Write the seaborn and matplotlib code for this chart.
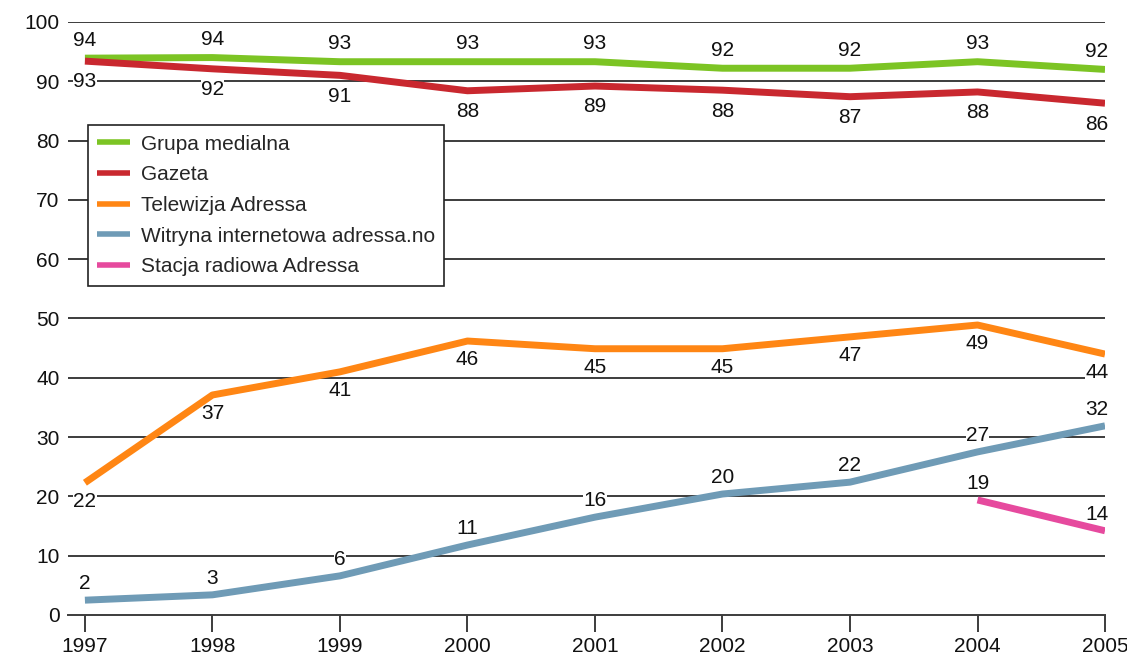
import numpy as np
import pandas as pd
import matplotlib
matplotlib.use("Agg")
import matplotlib.pyplot as plt
import seaborn as sns

years = [1997, 1998, 1999, 2000, 2001, 2002, 2003, 2004, 2005]
grupa = [93.9, 94.0, 93.3, 93.3, 93.3, 92.2, 92.2, 93.3, 92.0]
gazeta = [93.4, 92.1, 91.0, 88.4, 89.2, 88.5, 87.4, 88.2, 86.3]
telewizja = [22.3, 37.1, 41.0, 46.2, 44.9, 44.9, 46.9, 48.9, 44.0]
witryna = [2.5, 3.4, 6.6, 11.8, 16.5, 20.4, 22.4, 27.5, 31.9]
radio_years = [2004, 2005]
radio = [19.4, 14.2]

labels_grupa = [94, 94, 93, 93, 93, 92, 92, 93, 92]
labels_gazeta = [93, 92, 91, 88, 89, 88, 87, 88, 86]
labels_tele = [22, 37, 41, 46, 45, 45, 47, 49, 44]
labels_witryna = [2, 3, 6, 11, 16, 20, 22, 27, 32]
labels_radio = [19, 14]

names = ["Grupa medialna", "Gazeta", "Telewizja Adressa",
         "Witryna internetowa adressa.no", "Stacja radiowa Adressa"]
colors = ["#7cc424", "#c9282f", "#ff8614", "#6f9bb6", "#e64a9e"]

rows = []
for n, xs, ys in [(names[0], years, grupa), (names[1], years, gazeta),
                  (names[2], years, telewizja), (names[3], years, witryna),
                  (names[4], radio_years, radio)]:
    for x, y in zip(xs, ys):
        rows.append({"year": x, "value": y, "series": n})
df = pd.DataFrame(rows)

sns.set_theme(style="white")
plt.rcParams['font.family'] = ['Liberation Sans', 'DejaVu Sans']

fig = plt.figure(figsize=(11.27, 6.62), dpi=100)
ax = fig.add_axes([0.0603, 0.071, 0.9202, 0.8958])

for yv in range(10, 101, 10):
    ax.axhline(yv, color="#3c3c3c", lw=1.4, zorder=1)

sns.lineplot(data=df, x="year", y="value", hue="series", hue_order=names,
             palette=dict(zip(names, colors)), linewidth=5.0, ax=ax,
             legend=True, zorder=5, solid_capstyle="butt")

fs = 15
bbox = dict(facecolor="white", edgecolor="none", pad=0.2)

def annotate(xs, ys, labs, dy):
    for x, y, l in zip(xs, ys, labs):
        dx = -6 if x == 2005 else 0
        ax.annotate(str(l), (x, y), xytext=(dx, dy), textcoords="offset points",
                    ha="center", va="center", fontsize=fs, color="#111111",
                    bbox=bbox, zorder=3)

annotate(years, grupa, labels_grupa, 13)
annotate(years, gazeta, labels_gazeta, -15)
annotate(years, telewizja, labels_tele, -13.5)
annotate(years, witryna, labels_witryna, 12)
annotate(radio_years, radio, labels_radio, 12)

ax.set_xlim(1996.867, 2005)
ax.set_ylim(0, 100)
ax.set_yticks(range(0, 101, 10))
ax.set_xticks(years)
ax.set_xticklabels([str(y) for y in years])
ax.set_xlabel("")
ax.set_ylabel("")
for s in ["top", "right", "left"]:
    ax.spines[s].set_visible(False)
ax.spines["bottom"].set_color("#3c3c3c")
ax.spines["bottom"].set_linewidth(1.4)
ax.tick_params(axis="x", direction="out", length=12, width=1.4, color="#3c3c3c",
               labelsize=fs, pad=4, bottom=True)
ax.tick_params(axis="y", length=0, labelsize=fs, pad=6, left=False)
for t in ax.get_xticklabels() + ax.get_yticklabels():
    t.set_color("#111111")

leg = ax.legend(loc="upper left", bbox_to_anchor=(0.019, 0.826), fontsize=fs,
                frameon=True, fancybox=False, handlelength=1.6, handletextpad=0.5,
                borderpad=0.45, labelspacing=0.56, borderaxespad=0)
leg.get_frame().set_edgecolor("#222222")
leg.get_frame().set_linewidth(1.2)
leg.get_frame().set_alpha(1)
leg.set_zorder(10)
for h in leg.get_lines():
    h.set_linewidth(4)

fig.savefig("out.png", dpi=100)
